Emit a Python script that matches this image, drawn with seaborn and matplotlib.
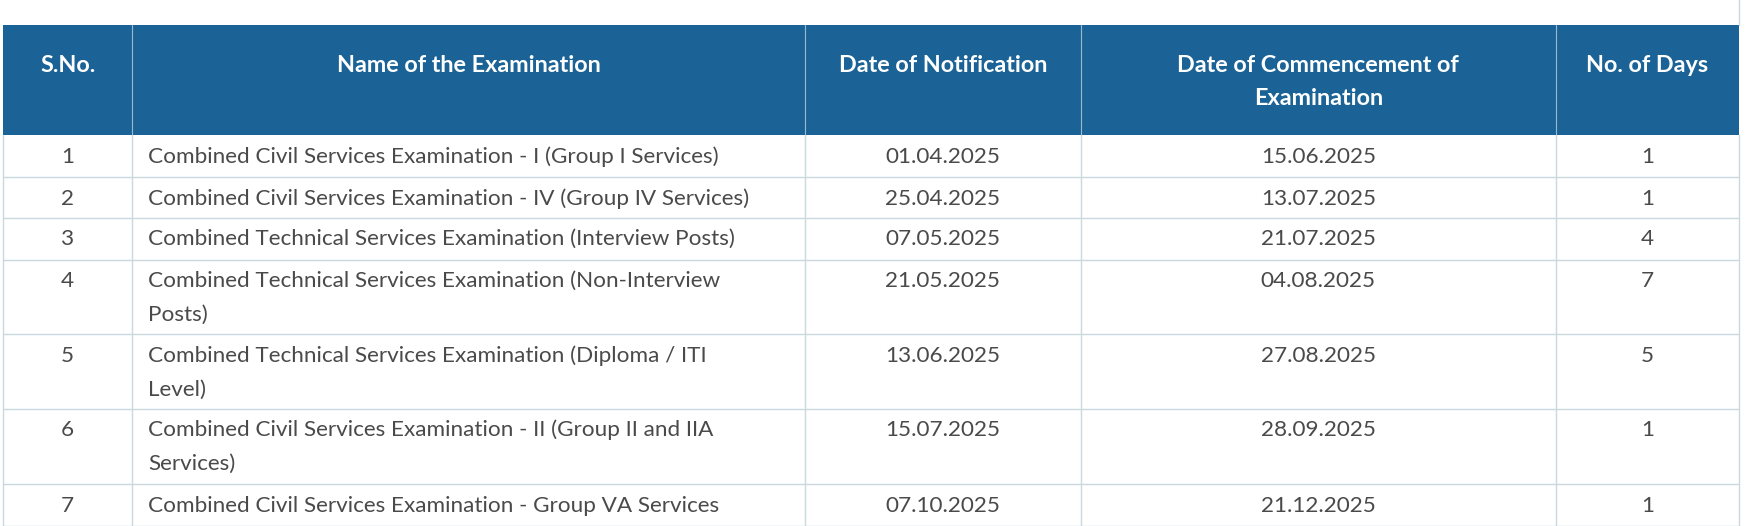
import matplotlib
matplotlib.use("Agg")
import matplotlib.pyplot as plt
import seaborn as sns
from matplotlib.patches import Rectangle

# table data
headers = ["S.No.", "Name of the Examination", "Date of Notification",
           "Date of Commencement of\nExamination", "No. of Days"]
serial = ["1", "2", "3", "4", "5", "6", "7"]
names = [
    "Combined Civil Services Examination - I (Group I Services)",
    "Combined Civil Services Examination - IV (Group IV Services)",
    "Combined Technical Services Examination (Interview Posts)",
    "Combined Technical Services Examination (Non-Interview\nPosts)",
    "Combined Technical Services Examination (Diploma / ITI\nLevel)",
    "Combined Civil Services Examination - II (Group II and IIA\nServices)",
    "Combined Civil Services Examination - Group VA Services",
]
notified = ["01.04.2025", "25.04.2025", "07.05.2025", "21.05.2025",
            "13.06.2025", "15.07.2025", "07.10.2025"]
commence = ["15.06.2025", "13.07.2025", "21.07.2025", "04.08.2025",
            "27.08.2025", "28.09.2025", "21.12.2025"]
days = [1, 1, 4, 7, 5, 1, 1]

sns.set_theme(style="white")
plt.rcParams["font.family"] = ["Lato", "DejaVu Sans"]

W, H = 1548, 466
col_x = [3, 117, 713, 957, 1378, 1540]
head_top, head_bot = 22, 120
row_y = [120, 157, 193, 230, 296, 362, 429, 466]
head_col = "#1b6396"
grid_col = "#cbd8e0"
txt_col = "#4a4a4a"

fig = plt.figure(figsize=(17.48, 5.26), dpi=100)
ax = fig.add_axes([0, 0, 1, 1])
ax.set_xlim(0, W)
ax.set_ylim(H, 0)
ax.axis("off")

# header band
ax.add_patch(Rectangle((col_x[0], head_top), col_x[-1] - col_x[0], head_bot - head_top,
                       color=head_col, lw=0))
for x in col_x[1:-1]:
    ax.plot([x, x], [head_top, head_bot], color="#9bb9cf", lw=0.8)
for i, h in enumerate(headers):
    cx = (col_x[i] + col_x[i + 1]) / 2
    for k, line in enumerate(h.split("\n")):
        ax.text(cx, 58 + 29 * k, line, ha="center", va="center", color="white",
                fontsize=16.8, fontweight="bold")

# grid
for y in row_y[1:]:
    ax.plot([col_x[0], col_x[-1]], [y, y], color=grid_col, lw=1)
for x in col_x:
    ax.plot([x, x], [head_bot, row_y[-1]], color=grid_col, lw=1)
ax.plot([col_x[-1], col_x[-1]], [0, head_top], color=grid_col, lw=1)

# body
for r in range(len(serial)):
    y0 = row_y[r] + 19
    vals = [serial[r], names[r], notified[r], commence[r], str(days[r])]
    for c, v in enumerate(vals):
        if c == 1:
            for k, line in enumerate(v.split("\n")):
                ax.text(col_x[1] + 14, y0 + 30 * k, line, ha="left", va="center",
                        color=txt_col, fontsize=16.2)
        else:
            ax.text((col_x[c] + col_x[c + 1]) / 2, y0, v, ha="center", va="center",
                    color=txt_col, fontsize=16.2)

fig.savefig("out.png", dpi=100, facecolor="white")
